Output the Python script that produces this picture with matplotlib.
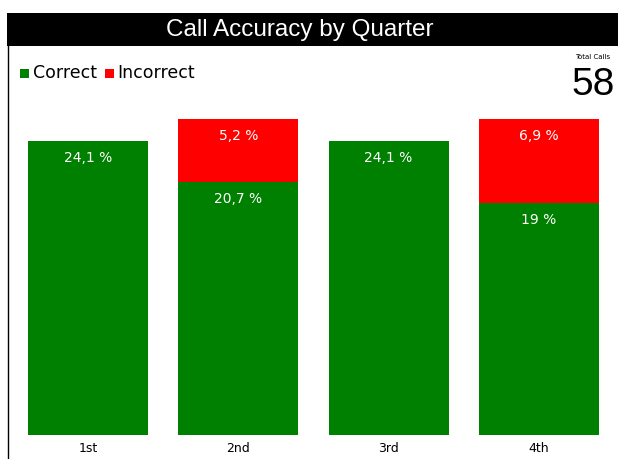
import matplotlib.pyplot as plt
from matplotlib.patches import Rectangle
from matplotlib.lines import Line2D
import numpy as np

# Data
quarters = ['1st', '2nd', '3rd', '4th']
correct = [24.1, 20.7, 24.1, 19.0]
incorrect = [0.0, 5.2, 0.0, 6.9]
correct_labels = ['24,1 %', '20,7 %', '24,1 %', '19 %']
incorrect_labels = ['', '5,2 %', '', '6,9 %']
total_calls = 58

green = '#008000'
red = '#FF0000'

W, H = 618, 459
fig = plt.figure(figsize=(W / 100, H / 100), dpi=100)
fig.patch.set_facecolor('white')

# Title bar and left border
fig.patches.append(Rectangle((7 / W, 1 - 46 / H), 1, 33 / H, transform=fig.transFigure,
                             facecolor='black', edgecolor='none'))
fig.add_artist(Line2D([7.5 / W, 7.5 / W], [0, 1 - 46 / H], transform=fig.transFigure,
                      color='black', linewidth=1))
fig.text(300 / W, 1 - 30 / H, 'Call Accuracy by Quarter', color='white',
         fontsize=17.5, family='Liberation Sans', ha='center', va='center')

# Legend
fig.patches.append(Rectangle((20 / W, 1 - 78 / H), 9 / W, 9 / H, transform=fig.transFigure,
                             facecolor=green, edgecolor='none'))
fig.text(33 / W, 1 - 73 / H, 'Correct', fontsize=12.5, family='DejaVu Sans', va='center')
fig.patches.append(Rectangle((105 / W, 1 - 78 / H), 9 / W, 9 / H, transform=fig.transFigure,
                             facecolor=red, edgecolor='none'))
fig.text(117 / W, 1 - 73 / H, 'Incorrect', fontsize=12.5, family='DejaVu Sans', va='center')

# Total calls card
fig.text(593 / W, 1 - 57 / H, 'Total Calls', fontsize=5, ha='center', va='center')
fig.text(593 / W, 1 - 95 / H, str(total_calls), fontsize=28,
         family='Liberation Sans', ha='center', va='baseline')

# Bars
ax = fig.add_axes([13 / W, (H - 435) / H, 601 / W, (435 - 119) / H])
x = np.arange(len(quarters))
ax.bar(x, correct, width=0.8, color=green)
ax.bar(x, incorrect, width=0.8, bottom=correct, color=red)
ax.set_xlim(-0.5, 3.5)
ax.set_ylim(0, max(c + i for c, i in zip(correct, incorrect)))
ax.set_xticks(x)
ax.set_xticklabels(quarters, fontsize=9)
ax.tick_params(axis='x', length=0, pad=5)
ax.set_yticks([])
for s in ax.spines.values():
    s.set_visible(False)

for xi, c, i, cl, il in zip(x, correct, incorrect, correct_labels, incorrect_labels):
    ax.annotate(cl, (xi, c), xytext=(0, -12), textcoords='offset points',
                ha='center', va='center', color='white', fontsize=10)
    if i > 0:
        ax.annotate(il, (xi, c + i), xytext=(0, -12), textcoords='offset points',
                    ha='center', va='center', color='white', fontsize=10)

plt.savefig('out.png', dpi=100)
